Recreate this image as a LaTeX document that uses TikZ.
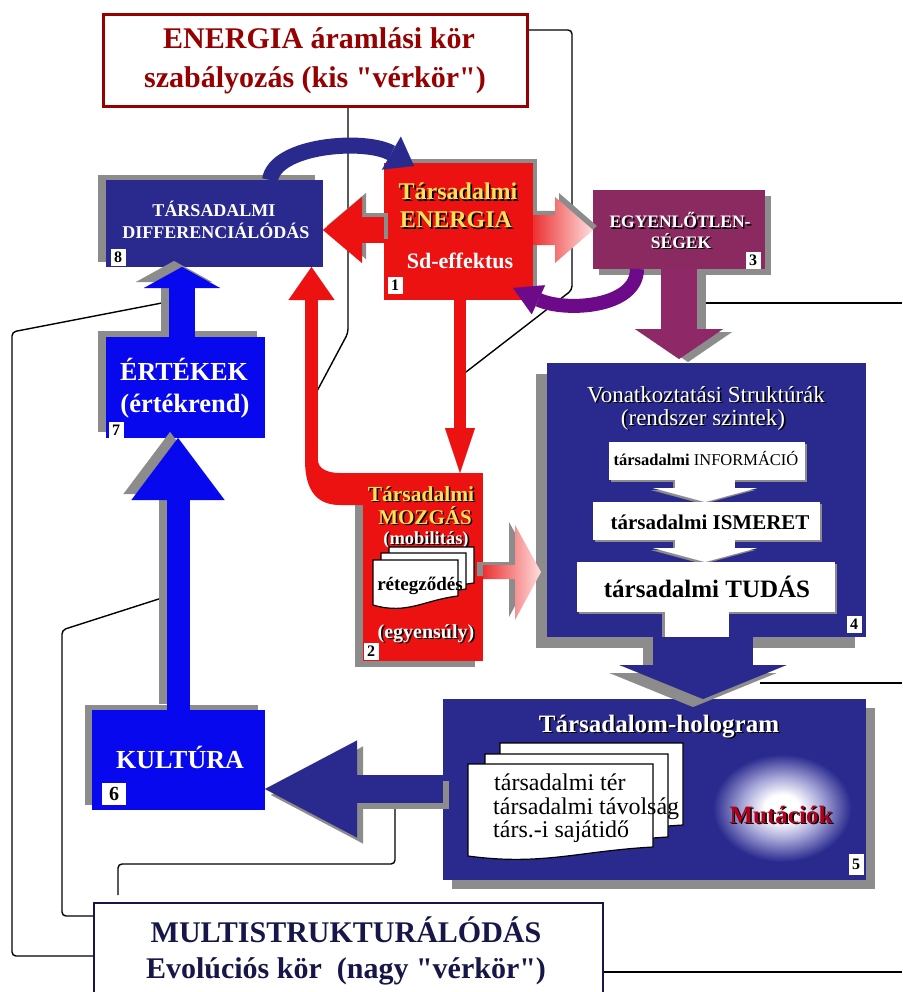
\documentclass[tikz,border=0pt]{standalone}
\usepackage{fontspec}
\setmainfont{Liberation Serif}[Ligatures=TeXOff]
\usepackage{xcolor}
\usepackage{tikz}
\usetikzlibrary{arrows.meta,positioning,calc,shadows}

\definecolor{navybox}{RGB}{42,42,142}
\definecolor{bluebox}{RGB}{8,8,238}
\definecolor{redbox}{RGB}{236,18,18}
\definecolor{purplebox}{RGB}{138,42,96}
\definecolor{purparrow}{RGB}{142,40,102}
\definecolor{violetarrow}{RGB}{108,10,138}
\definecolor{darkred}{RGB}{150,0,0}
\definecolor{goldtext}{RGB}{255,226,90}
\definecolor{shgray}{RGB}{140,140,140}
\definecolor{inknavy}{RGB}{22,22,72}
\definecolor{mutred}{RGB}{180,0,30}
\definecolor{pinkL}{RGB}{236,50,50}
\definecolor{pinkR}{RGB}{255,222,222}
\definecolor{glowmid}{RGB}{165,165,215}

\newcommand\fsz[1]{\fontsize{#1}{#1}\selectfont}
\newcommand\shd[1]{\rlap{\hspace{1.6pt}\raisebox{-1.6pt}{\textcolor{black}{#1}}}#1}
\newcommand\docpage[4]{%
  \filldraw[fill=white,draw=black,line width=1.2pt] (#1,#2) -- ++(#3,0) -- ++(0,#4-12)
    .. controls +(-0.4*#3,4) and +(0.4*#3,10) .. (#1,#2+#4-3) -- cycle;}

\pgfdeclarelayer{bg}
\pgfsetlayers{bg,main}
\pgfdeclareradialshading{glow}{\pgfpoint{0bp}{0bp}}{color(0bp)=(white); color(6bp)=(white); color(14bp)=(glowmid); color(24bp)=(navybox); color(50bp)=(navybox)}

\tikzset{
  box/.style={rectangle,inner sep=0pt,outer sep=0pt},
  boxshadow/.style 2 args={drop shadow={shadow xshift=#1,shadow yshift=#2,fill=shgray,opacity=1}},
  barrow/.style n args={3}{line width=#1,-{Triangle[width=#2,length=#3,line width=0.1pt]}},
  sh/.style 2 args={shgray,transform canvas={shift={(#1,#2)}}},
  conn/.style={black,line width=1.4pt,rounded corners=4pt},
  lbl/.style={anchor=base,inner sep=0pt},
  numbox/.style={fill=white,inner sep=0pt,minimum width=15pt,minimum height=17pt,font=\fsz{16}\bfseries}
}

\begin{document}
\begin{tikzpicture}[x=1pt,y=-1pt]
\useasboundingbox (0,0) rectangle (902,992);

% boxes
\node[box,fill=white,draw=darkred,line width=3pt,minimum width=424pt,minimum height=92pt] (kisker) at (315,61) {};
\node[box,fill=navybox,minimum width=217pt,minimum height=87pt,boxshadow={-8pt}{5pt}] (diff) at (214.5,223.5) {};
\node[box,fill=redbox,minimum width=149pt,minimum height=137pt,boxshadow={4pt}{4pt}] (energia) at (458.5,231.5) {};
\node[box,fill=purplebox,minimum width=172pt,minimum height=79pt,boxshadow={6pt}{-6pt}] (egyenl) at (679,229.5) {};
\node[box,fill=redbox,minimum width=120pt,minimum height=188pt,boxshadow={-8pt}{-6pt}] (mozgas) at (423,567) {};
\node[box,fill=navybox,minimum width=319pt,minimum height=274pt,boxshadow={-11pt}{-11pt}] (vonatk) at (706.5,500) {};
\node[box,fill=navybox,minimum width=423pt,minimum height=181pt,boxshadow={9pt}{-9pt}] (holo) at (654.5,789.5) {};
\node[box,fill=bluebox,minimum width=173pt,minimum height=100pt,boxshadow={-7pt}{5pt}] (kultura) at (178.5,760) {};
\node[box,fill=bluebox,minimum width=159pt,minimum height=101pt,boxshadow={-8pt}{6pt}] (ertekek) at (185.5,387.5) {};
\node[box,fill=white,draw=inknavy,line width=2.5pt,minimum width=509pt,minimum height=100pt] (nagyker) at (348.5,953) {};

% connector lines behind
\begin{pgfonlayer}{bg}
\fill[white] (0,0) rectangle (902,992);
\coordinate (rimA) at (902,303);
\coordinate (rimB) at (902,683);
\coordinate (rimC) at (902,972);
\draw[conn] (kisker.east |- 0,30) -| (572,290) -- (466,372);
\draw[conn] (348,0 |- kisker.south) -- (348,333) -- (316,393);
\draw[conn] (700,303) -- (rimA);
\draw[conn] (760,683) -- (rimB);
\draw[conn] (nagyker.east |- rimC) -- (rimC);
\draw[conn] (nagyker.west |- 0,956) -| (12,332) -- (167,302);
\draw[conn] (nagyker.west |- 0,916) -| (62,630) -- (165,597);
\draw[conn] (395,800) |- (118,864) -- (118,895);
\end{pgfonlayer}

% block arrows
\draw[barrow={26pt}{76pt}{21pt},sh={-8pt}{6pt}] (182,0 |- ertekek.north) -- (182,0 |- diff.south);
\draw[barrow={26pt}{76pt}{21pt},bluebox] (182,0 |- ertekek.north) -- (182,0 |- diff.south);
\draw[barrow={23pt}{93pt}{62pt},sh={-8pt}{6pt}] (178,0 |- kultura.north) -- (178,0 |- ertekek.south);
\draw[barrow={23pt}{93pt}{62pt},bluebox] (178,0 |- kultura.north) -- (178,0 |- ertekek.south);
\draw[barrow={28pt}{97pt}{92pt},sh={6pt}{-6pt}] (holo.west |- 0,789) -- (kultura.east |- 0,789);
\draw[barrow={28pt}{97pt}{92pt},navybox] (holo.west |- 0,789) -- (kultura.east |- 0,789);
\draw[barrow={100pt}{167pt}{34pt},sh={-10pt}{-8pt}] (703,0 |- vonatk.south) -- (703,0 |- holo.north);
\draw[barrow={100pt}{167pt}{34pt},navybox] (703,0 |- vonatk.south) -- (703,0 |- holo.north);
\draw[barrow={36pt}{88pt}{30pt},sh={9pt}{-3pt}] (679,0 |- egyenl.south) -- ($(679,0 |- vonatk.north)+(0,-4)$);
\draw[barrow={36pt}{88pt}{30pt},purparrow] (679,0 |- egyenl.south) -- ($(679,0 |- vonatk.north)+(0,-4)$);
\draw[barrow={26pt}{66pt}{39pt},sh={4pt}{4pt}] (energia.west |- 0,230) -- (diff.east |- 0,230);
\draw[barrow={26pt}{66pt}{39pt},redbox] (energia.west |- 0,230) -- (diff.east |- 0,230);
\draw[barrow={12pt}{30pt}{45pt},redbox] (460,0 |- energia.south) -- (460,0 |- mozgas.north);

% pink arrows
\coordinate (p13) at (energia.east |- 0,230);
\coordinate (p24) at ($(mozgas.east)+(0,5)$);
\fill[sh={4pt}{4pt}] ($(p13)+(0,-15)$) -- ++(22,0) -- ++(0,-18) -- (egyenl.west |- p13) -- ($(p13)+(22,33)$) -- ++(0,-18) -- ($(p13)+(0,15)$) -- cycle;
\shade[left color=pinkL,right color=pinkR] ($(p13)+(0,-15)$) -- ++(22,0) -- ++(0,-18) -- (egyenl.west |- p13) -- ($(p13)+(22,33)$) -- ++(0,-18) -- ($(p13)+(0,15)$) -- cycle;
\fill[sh={-6pt}{3pt}] ($(p24)+(0,-7)$) -- ++(32,0) -- ++(0,-40) -- ($(vonatk.west |- p24)+(-6,0)$) -- ($(p24)+(32,48)$) -- ++(0,-41) -- ($(p24)+(0,7)$) -- cycle;
\shade[left color=pinkL,right color=pinkR] ($(p24)+(0,-7)$) -- ++(32,0) -- ++(0,-40) -- ($(vonatk.west |- p24)+(-6,0)$) -- ($(p24)+(32,48)$) -- ++(0,-41) -- ($(p24)+(0,7)$) -- cycle;

% curved arrows
\draw[barrow={16pt}{38pt}{26pt},navybox] (270,0 |- diff.north) .. controls (275,145) and (365,138) .. ($(energia.north west)+(30,3)$);
\draw[barrow={14pt}{32pt}{28pt},violetarrow] (637,0 |- egyenl.south) .. controls (637,308) and (565,312) .. ($(energia.south east)+(-20,-12)$);
\fill[redbox] (mozgas.north west) -- ($(mozgas.north west)+(0,32)$) -- (340,505) .. controls (318,505) and (305,492) .. (305,460) -- (318,460) .. controls (318,468) and (326,473) .. (340,473) -- cycle;
\draw[barrow={13pt}{46pt}{33pt},redbox] (311.5,462) -- (311.5,0 |- diff.south);

% top and bottom frames
\node[lbl,text=darkred,font=\fsz{30}\bfseries] (kis1) at (319,49) {ENERGIA áramlási kör};
\node[lbl,text=darkred,font=\fsz{30}\bfseries] (kis2) at (315,88) {szabályozás (kis "vérkör")};
\node[lbl,text=inknavy,font=\fsz{30}\bfseries] (nagy1) at (346,942) {MULTISTRUKTURÁLÓDÁS};
\node[lbl,text=inknavy,font=\fsz{30}\bfseries] (nagy2) at (346,978) {Evolúciós kör\ \ (nagy "vérkör")};

% 8
\node[lbl,text=white,font=\fsz{18}\bfseries] (d1) at (214,217) {TÁRSADALMI};
\node[lbl,text=white,font=\fsz{18}\bfseries] (d2) at (216,239) {DIFFERENCIÁLÓDÁS};
% 1
\node[lbl,text=goldtext,font=\fsz{24}\bfseries] (e1) at (458,200) {\shd{Társadalmi}};
\node[lbl,text=goldtext,font=\fsz{24}\bfseries] (e2) at (456,228) {\shd{ENERGIA}};
\node[lbl,text=white,font=\fsz{22}\bfseries] (e3) at (460,268) {Sd-effektus};
% 3
\node[lbl,text=white,font=\fsz{17.5}\bfseries] (g1) at (680,228) {\shd{EGYENLŐTLEN-}};
\node[lbl,text=white,font=\fsz{17.5}\bfseries] (g2) at (681,248) {\shd{SÉGEK}};
% 7, 6
\node[lbl,text=white,font=\fsz{26}\bfseries] (r1) at (184,380) {ÉRTÉKEK};
\node[lbl,text=white,font=\fsz{26.5}\bfseries] (r2) at (185,412) {(értékrend)};
\node[lbl,text=white,font=\fsz{26}\bfseries] (k1) at (180,768) {KULTÚRA};
% 2
\node[lbl,text=goldtext,font=\fsz{21.5}\bfseries] (m1) at (421,501) {\shd{Társadalmi}};
\node[lbl,text=goldtext,font=\fsz{21}\bfseries] (m2) at (425,524) {\shd{MOZGÁS}};
\node[lbl,text=white,font=\fsz{18.5}\bfseries] (m3) at (426,544) {\shd{(mobilitás)}};
\docpage{389}{547}{85}{48}
\docpage{381}{553}{85}{48}
\docpage{373}{560}{85}{48}
\node[lbl,font=\fsz{19}\bfseries] (m4) at (420,590) {rétegződés};
\node[lbl,text=white,font=\fsz{20}\bfseries] (m5) at (426,638) {\shd{(egyensúly)}};
% 4
\node[lbl,text=white,font=\fsz{23}] (v1) at (706,402) {\shd{Vonatkoztatási Struktúrák}};
\node[lbl,text=white,font=\fsz{23}] (v2) at (703,425) {\shd{(rendszer szintek)}};
\draw[barrow={60pt}{104pt}{14pt},sh={-2pt}{-2pt}] (705,461) -- (705,502);
\draw[barrow={60pt}{104pt}{14pt},sh={-2pt}{-2pt}] (705,521) -- (705,562);
\draw[line width=66pt,shgray] (695,612) -- (695,637);
\node[box,fill=white,minimum width=196pt,minimum height=38pt,boxshadow={2pt}{-2pt}] (info) at (707,461) {};
\node[box,fill=white,minimum width=227pt,minimum height=38pt,boxshadow={2pt}{-2pt}] (ismeret) at (706.5,521) {};
\node[box,fill=white,minimum width=258pt,minimum height=50pt,boxshadow={2pt}{-2pt}] (tudas) at (706,587) {};
\draw[barrow={60pt}{104pt}{14pt},white] (705,0 |- info.south) -- (705,0 |- ismeret.north);
\draw[barrow={60pt}{104pt}{14pt},white] (705,0 |- ismeret.south) -- (705,0 |- tudas.north);
\draw[line width=64pt,white] (697,0 |- tudas.south) -- (697,0 |- vonatk.south);
\node[lbl,font=\fsz{16.5}] (t1) at (706,465) {\textbf{társadalmi} INFORMÁCIÓ};
\node[lbl,font=\fsz{21}\bfseries] (t2) at (710,529) {társadalmi ISMERET};
\node[lbl,font=\fsz{25}\bfseries] (t3) at (707,597) {társadalmi TUDÁS};
% 5
\begin{scope}
\clip (holo.north west) rectangle (holo.south east);
\shade[shading=glow] (782,808) ellipse [x radius=72pt,y radius=56pt];
\end{scope}
\node[lbl,text=white,font=\fsz{25}\bfseries] (h1) at (659,732) {\shd{Társadalom-hologram}};
\node[lbl,text=mutred,font=\fsz{25}\bfseries] (mut) at (781,823) {\shd{Mutációk}};
\docpage{500}{743}{183}{94}
\docpage{485}{754}{183}{95}
\docpage{468}{764}{185}{95}
\node[anchor=base west,inner sep=0pt,font=\fsz{24}] (s1) at (494,790) {társadalmi tér};
\node[anchor=base west,inner sep=0pt,font=\fsz{24}] (s2) at (493,814) {társadalmi távolság};
\node[anchor=base west,inner sep=0pt,font=\fsz{24}] (s3) at (493,837) {társ.-i sajátidő};

% numbers
\node[numbox] (n8) at (118,257) {8};
\node[numbox] (n1) at (395,285) {1};
\node[numbox] (n3) at (753,260) {3};
\node[numbox] (n7) at (116,430) {7};
\node[numbox] (n2) at (371,651) {2};
\node[numbox] (n4) at (854,624) {4};
\node[numbox,minimum height=21pt] (n5) at (856,864) {5};
\node[numbox,minimum width=24pt,minimum height=22pt,font=\fsz{20}\bfseries] (n6) at (114,794) {6};
\end{tikzpicture}
\end{document}
